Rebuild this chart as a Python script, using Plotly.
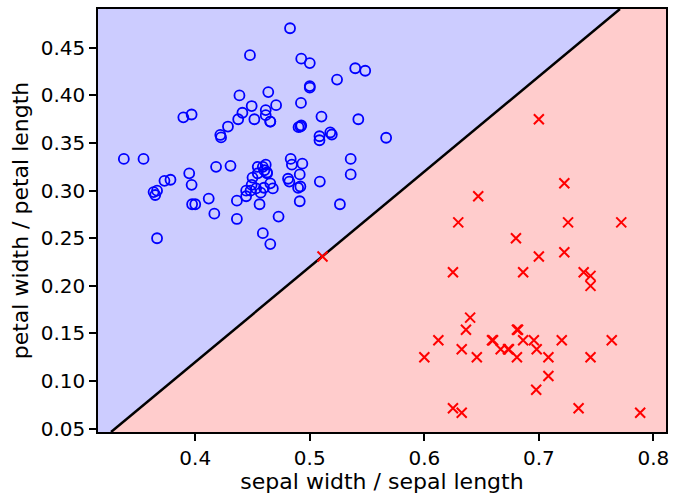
import plotly.graph_objects as go

# Iris measurements (cm) of the points shown: sepal length, sepal width, petal length, petal width
setosa_sl = [5.1,4.9,4.7,4.6,5.0,5.4,4.6,4.4,4.9,4.8,4.8,4.3,5.7,5.4,5.1,5.1,5.1,5.1,4.8,5.0,
             5.0,5.2,4.7,4.8,5.4,5.2,5.5,4.9,5.0,5.5,4.9,4.4,5.1,5.0,4.5,5.0,5.1,4.8,5.1,4.6,
             5.3,5.0]
setosa_sw = [3.5,3.0,3.2,3.1,3.6,3.9,3.4,2.9,3.1,3.4,3.0,3.0,4.4,3.9,3.5,3.8,3.7,3.3,3.4,3.0,
             3.4,3.5,3.2,3.1,3.4,4.1,4.2,3.1,3.2,3.5,3.6,3.0,3.4,3.5,2.3,3.5,3.8,3.0,3.8,3.2,
             3.7,3.3]
setosa_pl = [1.4,1.4,1.3,1.5,1.4,1.7,1.4,1.4,1.5,1.6,1.4,1.1,1.5,1.3,1.4,1.5,1.5,1.7,1.9,1.6,
             1.6,1.5,1.6,1.6,1.5,1.5,1.4,1.5,1.2,1.3,1.4,1.3,1.5,1.3,1.3,1.6,1.9,1.4,1.6,1.4,
             1.5,1.4]
setosa_pw = [0.2,0.2,0.2,0.2,0.2,0.4,0.3,0.2,0.1,0.2,0.1,0.1,0.4,0.4,0.3,0.3,0.4,0.5,0.2,0.2,
             0.4,0.2,0.2,0.2,0.4,0.1,0.2,0.2,0.2,0.2,0.1,0.2,0.2,0.3,0.3,0.6,0.4,0.3,0.2,0.2,
             0.2,0.2]

versicolor_sl = [7.0,6.9,5.5,6.5,5.7,4.9,5.2,5.0,5.9,6.0,5.6,6.7,5.6,5.8,6.2,5.9,6.1,6.3,6.1,6.4,
                 6.6,6.8,6.0,5.7,5.5,5.5,5.8,6.0,6.0,6.7,6.3,5.6,5.5,5.5,6.1,5.8,5.0,5.6,5.7,5.7,
                 6.2,5.1,5.7]
versicolor_sw = [3.2,3.1,2.3,2.8,2.8,2.4,2.7,2.0,3.0,2.2,2.9,3.1,3.0,2.7,2.2,3.2,2.8,2.5,2.8,2.9,
                 3.0,2.8,2.9,2.6,2.4,2.4,2.7,2.7,3.4,3.1,2.3,3.0,2.5,2.6,3.0,2.6,2.3,2.7,3.0,2.9,
                 2.9,2.5,2.8]
versicolor_pl = [4.7,4.9,4.0,4.6,4.5,3.3,3.9,3.5,4.2,4.0,3.6,4.4,4.5,4.1,4.5,4.8,4.0,4.9,4.7,4.3,
                 4.4,4.8,4.5,3.5,3.8,3.7,3.9,5.1,4.5,4.7,4.4,4.1,4.0,4.4,4.6,4.0,3.3,4.2,4.2,4.2,
                 4.3,3.0,4.1]
versicolor_pw = [1.4,1.5,1.3,1.5,1.3,1.0,1.4,1.0,1.5,1.0,1.3,1.4,1.5,1.0,1.5,1.8,1.3,1.5,1.2,1.3,
                 1.4,1.4,1.5,1.0,1.1,1.0,1.2,1.6,1.6,1.5,1.3,1.3,1.3,1.2,1.4,1.2,1.0,1.3,1.2,1.3,
                 1.3,1.1,1.3]

virginica_sl = [6.3,5.8,7.1,6.3,6.5,7.6,4.9,7.3,6.7,7.2,6.5,6.4,6.8,5.7,5.8,6.4,6.5,7.7,7.7,6.0,
                6.9,5.6,7.7,6.3,6.7,7.2,6.2,6.1,6.4,7.2,7.4,7.9,6.3,7.7,6.3,6.4,6.9,5.8,6.8,6.7,
                6.7,6.3,6.5,6.2,5.9]
virginica_sw = [3.3,2.7,3.0,2.9,3.0,3.0,2.5,2.9,2.5,3.6,3.2,2.7,3.0,2.5,2.8,3.2,3.0,3.8,2.6,2.2,
                3.2,2.8,2.8,2.7,3.3,3.2,2.8,3.0,2.8,3.0,2.8,3.8,2.8,3.0,3.4,3.1,3.1,2.7,3.2,3.3,
                3.0,2.5,3.0,3.4,3.0]
virginica_pl = [6.0,5.1,5.9,5.6,5.8,6.6,4.5,6.3,5.8,6.1,5.1,5.3,5.5,5.0,5.1,5.3,5.5,6.7,6.9,5.0,
                5.7,4.9,6.7,4.9,5.7,6.0,4.8,4.9,5.6,5.8,6.1,6.4,5.1,6.1,5.6,5.5,5.4,5.1,5.9,5.7,
                5.2,5.0,5.2,5.4,5.1]
virginica_pw = [2.5,1.9,2.1,1.8,2.2,2.1,1.7,1.8,1.8,2.5,2.0,1.9,2.1,2.0,2.4,2.3,1.8,2.2,2.3,1.5,
                2.3,2.0,2.0,1.8,2.1,1.8,1.8,1.8,2.1,1.6,1.9,2.0,1.5,2.3,2.4,1.8,2.1,1.9,2.3,2.5,
                2.3,1.9,2.0,2.3,1.8]

# Decision boundary: y = slope * x + intercept
boundary_slope = 1.0
boundary_intercept = -0.28

x_range = [0.3151, 0.8110]
y_range = [0.0465, 0.4908]
x_ticks = [0.4, 0.5, 0.6, 0.7, 0.8]
y_ticks = [0.05, 0.10, 0.15, 0.20, 0.25, 0.30, 0.35, 0.40, 0.45]

other_sl = versicolor_sl + virginica_sl
other_sw = versicolor_sw + virginica_sw
other_pl = versicolor_pl + virginica_pl
other_pw = versicolor_pw + virginica_pw

sx = [w / l for w, l in zip(setosa_sw, setosa_sl)]
sy = [w / l for w, l in zip(setosa_pw, setosa_pl)]
ox = [w / l for w, l in zip(other_sw, other_sl)]
oy = [w / l for w, l in zip(other_pw, other_pl)]

x0, x1 = x_range
y0, y1 = y_range
xb0 = (y0 - boundary_intercept) / boundary_slope
xb1 = (y1 - boundary_intercept) / boundary_slope

fig = go.Figure()
fig.add_trace(go.Scatter(x=[x0, xb0, xb1, x0, x0], y=[y0, y0, y1, y1, y0], fill="toself",
                         fillcolor="rgb(204,204,255)", line=dict(width=0), mode="lines",
                         hoverinfo="skip", showlegend=False))
fig.add_trace(go.Scatter(x=[xb0, x1, x1, xb1, xb0], y=[y0, y0, y1, y1, y0], fill="toself",
                         fillcolor="rgb(255,204,204)", line=dict(width=0), mode="lines",
                         hoverinfo="skip", showlegend=False))
fig.add_trace(go.Scatter(x=[xb0, xb1], y=[y0, y1], mode="lines",
                         line=dict(color="black", width=2.5), showlegend=False))
fig.add_trace(go.Scatter(x=ox, y=oy, mode="markers", showlegend=False,
                         marker=dict(symbol="circle-open", size=10, color="blue",
                                     line=dict(width=1.8, color="blue"))))
fig.add_trace(go.Scatter(x=sx, y=sy, mode="markers", showlegend=False,
                         marker=dict(symbol="x-thin-open", size=10, color="red",
                                     line=dict(width=2, color="red"))))

axis_common = dict(showgrid=False, zeroline=False, showline=True, linecolor="black",
                   linewidth=1.6, mirror=True, ticks="outside", ticklen=7, tickwidth=1.6,
                   tickcolor="black", tickfont=dict(size=20, color="black"))
fig.update_xaxes(range=x_range, tickvals=x_ticks, ticktext=[f"{v:.1f}" for v in x_ticks],
                 title=dict(text="sepal width / sepal length", font=dict(size=22, color="black"),
                            standoff=2), **axis_common)
fig.update_yaxes(range=y_range, tickvals=y_ticks, ticktext=[f"{v:.2f}" for v in y_ticks],
                 title=dict(text="petal width / petal length", font=dict(size=22, color="black"),
                            standoff=6), **axis_common)
fig.update_layout(width=676, height=494, margin=dict(l=98, r=8, t=7, b=61),
                  paper_bgcolor="white", plot_bgcolor="white",
                  font=dict(family="DejaVu Sans", size=20, color="black"))
fig.write_html("out.html")
